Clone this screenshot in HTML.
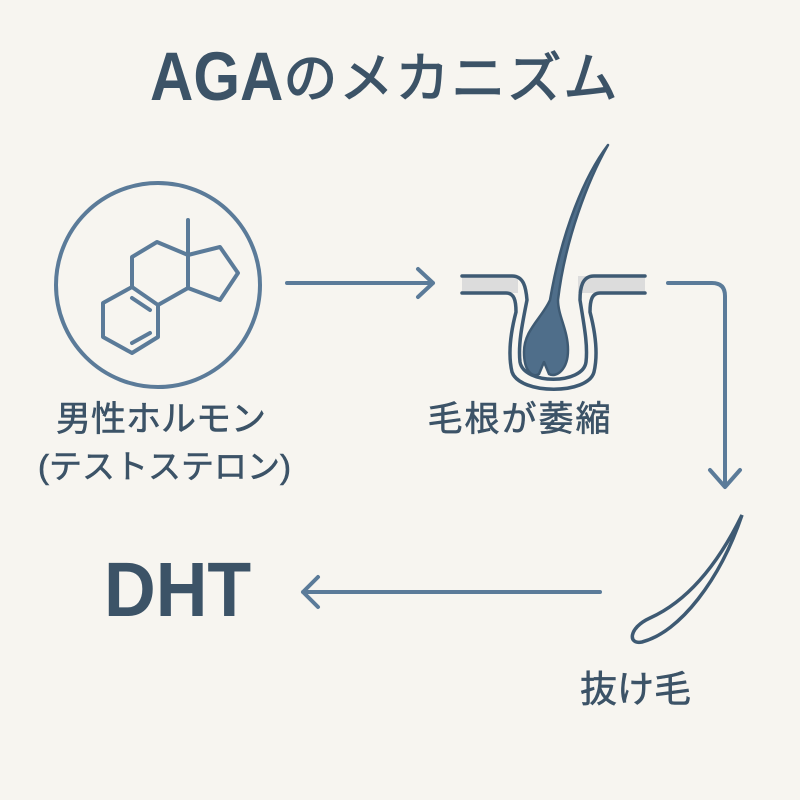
<!DOCTYPE html>
<html><head><meta charset="utf-8"><style>
html,body{margin:0;padding:0;background:#f7f5f0;}
.w{position:relative;width:800px;height:800px;overflow:hidden;background:#f7f5f0;}
.t{position:absolute;white-space:nowrap;color:#3c5367;font-family:"Liberation Sans","Noto Sans CJK JP",sans-serif;-webkit-text-stroke:0.6px #3c5367;}
</style></head><body><div class="w">
<svg width="800" height="800" style="position:absolute;left:0;top:0">
<g fill="none" stroke="#5b7b99" stroke-width="4" stroke-linecap="round" stroke-linejoin="round">
<circle cx="158" cy="285" r="102"/>
<path d="M103,303 L132,287 L158,305 L158,337 L132,353 L103,337 Z"/>
<path d="M132,298 L150,310 M132,343 L150,333"/>
<path d="M132,287 L132,257 L157,242 L188,255 L188,288 L158,305"/>
<path d="M188,255 L220,247 L238,273 L220,300 L188,288"/>
<path d="M188,255 L188,220"/>
<path d="M287,283 H433 M418,269 L433,283 L418,297"/>
<path d="M668,283 H712 Q725,283 725,296 V485 M710,470 L725,487 L740,470"/>
<path d="M600,592 H303 M318,577 L303,592 L318,607"/>
</g>
<rect x="462" y="276" width="56" height="17" fill="#dcdcdc"/>
<rect x="578" y="276" width="67" height="17" fill="#dcdcdc"/>
<g fill="none" stroke="#3e5a73" stroke-width="3.5" stroke-linecap="round">
<path d="M462,276 H512 C524,276 526,288 527,300 C522,325 518,345 520,362 C524,385 583,385 586,362 C588,345 584,325 580,300 C580,288 582,276 594,276 H645"/>
<path d="M462,293 H506 C514,293 516,300 516,312 C510,335 508,355 512,372 C520,395 588,395 594,372 C598,355 596,335 590,312 C590,300 592,293 600,293 H645"/>
<path d="M742,515 C720,560 690,600 650,618 C628,628 628,645 642,642 C680,632 720,580 742,515 Z"/>
</g>
<path d="M608,145 C585,175 562,230 550,300 C542,318 524,330 524,352 C524,372 533,378 539,374 L544,362 L549,374 C556,378 568,370 568,350 C568,330 558,316 558,300 C565,240 588,180 608,145 Z" fill="#4f6e8a" stroke="#3e5a73" stroke-width="2.5" stroke-linejoin="round"/>
</svg>
<div class="t" style="left:150px;top:42px;font-size:60px;font-weight:bold;line-height:70px;-webkit-text-stroke:0;"><span style="display:inline-block;transform:scaleY(1.15)">AGA</span><span style="font-size:54px;font-weight:normal;letter-spacing:2px;-webkit-text-stroke:1.3px #3c5367;">のメカニズム</span></div>
<div class="t" style="left:52px;top:398px;font-size:35px;line-height:44px;width:218px;text-align:center;">男性ホルモン</div>
<div class="t" style="left:38px;top:445px;font-size:33px;line-height:44px;width:236px;text-align:center;">(テストステロン)</div>
<div class="t" style="left:424px;top:398px;font-size:35px;line-height:44px;width:192px;text-align:center;letter-spacing:2px;">毛根が萎縮</div>
<div class="t" style="left:580px;top:668px;font-size:37px;line-height:44px;">抜け毛</div>
<div class="t" style="left:104px;top:548px;font-size:77px;font-weight:bold;line-height:84px;transform:scaleX(0.93);transform-origin:left;-webkit-text-stroke:0;">DHT</div>
</div></body></html>
